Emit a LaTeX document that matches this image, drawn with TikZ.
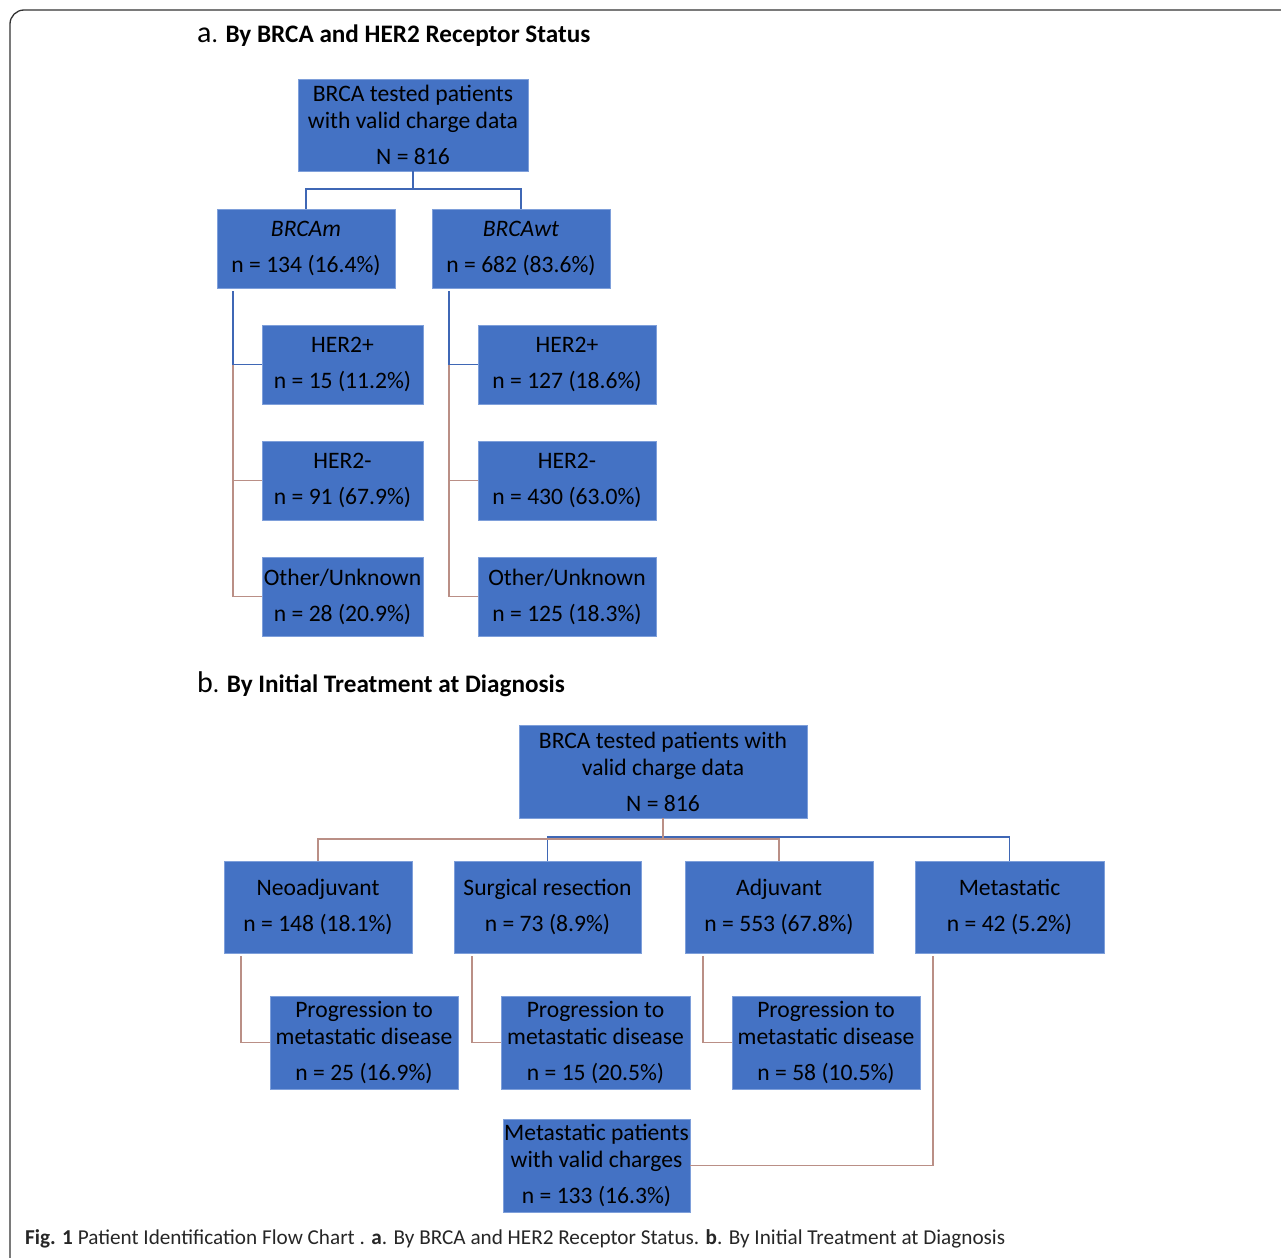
\documentclass[tikz,border=0pt]{standalone}
\usepackage{fontspec}
\setmainfont{Carlito}
\definecolor{boxblue}{HTML}{4472C4}
\definecolor{edgeblue}{HTML}{7E9FDA}
\definecolor{linkblue}{HTML}{3F67B5}
\definecolor{linkbrown}{HTML}{BA8F86}
\begin{document}
\begin{tikzpicture}[x=1pt,y=-1pt,
  box/.style={draw=edgeblue, line width=0.8pt, fill=boxblue, inner sep=0pt, align=center,
    font=\fontsize{23.6}{27}\selectfont, text=black},
  lb/.style={draw=linkblue, line width=1.6pt},
  lr/.style={draw=linkbrown, line width=1.6pt},
  ttl/.style={anchor=west, inner sep=0pt, font=\fontsize{25.2}{28}\selectfont}]
\useasboundingbox (0,0) rectangle (1281,1257);
\draw[line width=1.3pt, black!80, rounded corners=14pt] (10,1320) -- (10,10) -- (1320,10);

% ---- part a ----
\node[ttl] (ta) at (197,36) {{\fontsize{30}{30}\selectfont a}. \textbf{By BRCA and HER2 Receptor Status}};
\node[box, minimum width=230, minimum height=92] (top) at (413,125) {BRCA tested patients\\with valid charge data\\[9pt]N = 816};
\node[box, minimum width=178, minimum height=79] (m) at (306,248.5) {\textit{BRCAm}\\[9pt]n = 134 (16.4\%)};
\node[box, minimum width=178, minimum height=79] (wt) at (521,248.5) {\textit{BRCAwt}\\[9pt]n = 682 (83.6\%)};
\node[box, minimum width=161, minimum height=79] (h1) at (342.5,364.5) {HER2+\\[9pt]n = 15 (11.2\%)};
\node[box, minimum width=161, minimum height=79] (h2) at (342.5,480.5) {HER2-\\[9pt]n = 91 (67.9\%)};
\node[box, minimum width=161, minimum height=79] (h3) at (342.5,596.5) {Other/Unknown\\[9pt]n = 28 (20.9\%)};
\node[box, minimum width=178, minimum height=79] (r1) at (567,364.5) {HER2+\\[9pt]n = 127 (18.6\%)};
\node[box, minimum width=178, minimum height=79] (r2) at (567,480.5) {HER2-\\[9pt]n = 430 (63.0\%)};
\node[box, minimum width=178, minimum height=79] (r3) at (567,596.5) {Other/Unknown\\[9pt]n = 125 (18.3\%)};

\coordinate (ja) at (413,189);
\draw[lb] (top.south) -- (ja) -| (m.north);
\draw[lb] (ja) -| (wt.north);
\coordinate (mL) at (233,291);
\coordinate (wL) at (449,291);
\draw[lr] (mL |- h1.west) |- (h3.west);
\draw[lr] (mL |- h2.west) -- (h2.west);
\draw[lb] (mL) |- (h1.west);
\draw[lr] (wL |- r1.west) |- (r3.west);
\draw[lr] (wL |- r2.west) -- (r2.west);
\draw[lb] (wL) |- (r1.west);

% ---- part b ----
\node[ttl] (tb) at (197,684) {{\fontsize{30}{30}\selectfont b}. \textbf{By Initial Treatment at Diagnosis}};
\node[box, minimum width=288, minimum height=93] (topb) at (663,771.5) {BRCA tested patients with\\valid charge data\\[9pt]N = 816};
\node[box, minimum width=188, minimum height=92] (neo) at (318,907) {Neoadjuvant\\[9pt]n = 148 (18.1\%)};
\node[box, minimum width=187, minimum height=92] (sur) at (547.5,907) {Surgical resection\\[9pt]n = 73 (8.9\%)};
\node[box, minimum width=188, minimum height=92] (adj) at (779,907) {Adjuvant\\[9pt]n = 553 (67.8\%)};
\node[box, minimum width=189, minimum height=92] (met) at (1009.5,907) {Metastatic\\[9pt]n = 42 (5.2\%)};
\node[box, minimum width=188, minimum height=93] (p1) at (364,1042.5) {Progression to\\metastatic disease\\[9pt]n = 25 (16.9\%)};
\node[box, minimum width=189, minimum height=93] (p2) at (595.5,1042.5) {Progression to\\metastatic disease\\[9pt]n = 15 (20.5\%)};
\node[box, minimum width=188, minimum height=93] (p3) at (826,1042.5) {Progression to\\metastatic disease\\[9pt]n = 58 (10.5\%)};
\node[box, minimum width=187, minimum height=93] (mp) at (596.5,1165.5) {Metastatic patients\\with valid charges\\[9pt]n = 133 (16.3\%)};

\coordinate (jb) at (663,839);
\coordinate (jb2) at (663,837);
\draw[lb] (jb2) -| (sur.north);
\draw[lb] (jb2) -| (met.north);
\draw[lr] (topb.south) -- (jb) -| (neo.north);
\draw[lr] (jb) -| (adj.north);
\coordinate (nL) at (241,956);
\coordinate (sL) at (472,956);
\coordinate (aL) at (703,956);
\coordinate (tL) at (933,956);
\draw[lr] (nL) |- (p1.west);
\draw[lr] (sL) |- (p2.west);
\draw[lr] (aL) |- (p3.west);
\draw[lr] (tL) |- (mp.east);

% ---- caption ----
\node[anchor=west, inner sep=0pt, font=\fontsize{21.2}{24}\selectfont, text=black!85] (cap) at (25,1239) {\textbf{Fig. 1} Patient Identification Flow Chart . \textbf{a}. By BRCA and HER2 Receptor Status. \textbf{b}. By Initial Treatment at Diagnosis};
\end{tikzpicture}
\end{document}
